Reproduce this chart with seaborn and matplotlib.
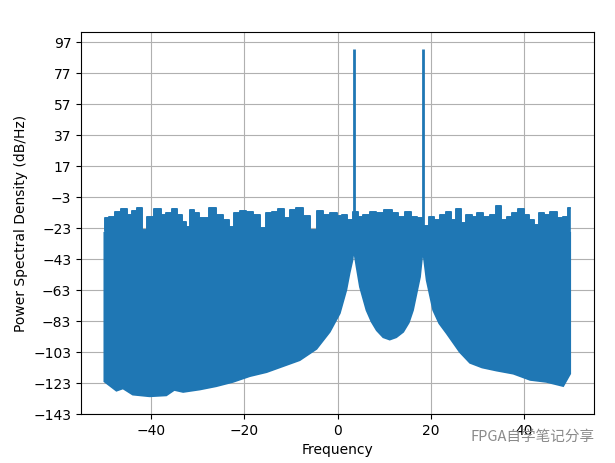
import numpy as np
import matplotlib
matplotlib.use("Agg")
import matplotlib.pyplot as plt
import seaborn as sns

# upper edge of the noise floor
upper_freq = [-49.9, -49.7, -48.2, -47.1, -45.6, -44.6, -43.5, -42.6, -41.4, -40.3, -38.5,
              -37.4, -36.0, -34.9, -33.8, -32.7, -32.1, -31.3, -30.3, -29.2, -28.2,
              -26.7, -25.3, -23.9, -22.8, -21.7, -20.3, -18.8, -17.4, -16.0, -14.5,
              -13.5, -12.1, -11.0, -9.5, -8.1, -6.7, -4.9, -3.8, -2.4, -0.9, 0.5,
              1.6, 2.6, 3.9, 4.8, 6.2, 7.6, 9.1, 10.9, 12.3, 13.7, 15.1, 16.6, 17.7,
              19.1, 20.2, 21.2, 22.7, 23.7, 24.8, 25.9, 27.0, 28.0, 29.5, 30.5, 32.0,
              33.4, 34.7, 35.5, 37.0, 38.0, 39.5, 40.6, 41.6, 42.7, 43.8, 44.8, 46.3,
              47.7, 48.8, 49.9]
upper_db = [-24.0, -16.3, -15.7, -12.5, -10.7, -14.6, -12.0, -9.9, -24.3, -15.7, -10.7,
            -14.6, -13.5, -10.7, -14.6, -18.9, -22.2, -11.4, -13.5, -16.7, -16.3,
            -9.9, -14.6, -17.8, -22.2, -13.5, -12.0, -12.5, -14.6, -23.2, -13.5,
            -12.5, -10.7, -16.7, -11.4, -10.3, -15.0, -24.3, -12.0, -14.6, -13.5, -15.0,
            -14.6, -17.8, -12.5, -15.7, -14.6, -12.5, -13.5, -11.4, -13.5, -15.7, -12.9,
            -15.7, -16.7, -21.5, -15.7, -17.8, -14.6, -12.5, -17.8, -10.7, -20.0, -14.6,
            -15.7, -13.5, -15.7, -14.6, -8.6, -17.8, -15.7, -13.5, -10.7, -14.6, -17.8,
            -21.2, -13.5, -14.6, -12.5, -16.7, -15.7, -9.9]
floor_top = -26.0

# lower edge of the noise floor
lower_freq = [-50.0, -47.4, -46.0, -43.9, -40.3, -36.7, -35.0, -33.1, -29.5, -26.0, -22.4,
              -18.8, -15.2, -11.7, -8.1, -4.5, -1.65, 0.5, 1.9, 2.6, 3.2, 3.5, 4.07,
              4.8, 6.2, 7.3, 8.4, 9.8, 11.2, 12.6, 14.1, 15.3, 16.2, 17.7, 18.3, 19.1,
              20.5, 21.8, 23.4, 26.2, 28.4, 31.0, 34.1, 37.7, 41.3, 44.8, 48.4, 49.9]
lower_db = [-122.0, -128.0, -126.5, -130.5, -131.6, -131.0, -127.5, -128.8, -127.2, -125.1,
            -122.3, -118.6, -116.0, -112.2, -108.3, -101.0, -90.0, -78.0, -63.0, -52.0,
            -44.0, -37.0, -48.0, -61.0, -76.0, -83.5, -89.0, -93.5, -95.0, -93.5, -90.0,
            -84.0, -76.0, -54.5, -37.0, -56.6, -76.0, -84.5, -91.0, -103.0, -110.0,
            -113.0, -115.0, -117.0, -121.0, -122.3, -125.0, -117.0]

# the two tones
peak_freq = [3.5, 18.3]
peak_db = [92.7, 92.7]

fig = plt.figure(figsize=(6.15, 4.63), dpi=100)
ax = fig.add_axes([0.1317, 0.1058, 0.8342, 0.8251])

blue = "#1f77b4"
# body of the noise floor
body_x = np.concatenate([[lower_freq[0]], [lower_freq[-1]], lower_freq[::-1]])
body_y = np.concatenate([[floor_top], [floor_top], lower_db[::-1]])
ax.fill(body_x, body_y, color=blue, lw=1.2, ec=blue, zorder=2)
# blocky top edge
ax.fill_between(upper_freq, upper_db, floor_top - 2, step="mid", color=blue,
                lw=1.2, ec=blue, zorder=2)
sns.lineplot(x=upper_freq, y=upper_db, ax=ax, color=blue, lw=1.2,
             drawstyle="steps-mid", sort=False, estimator=None, zorder=2)
ax.vlines(peak_freq, floor_top, peak_db, color=blue, lw=2, zorder=2)

ax.set_xlim(-55, 55)
ax.set_ylim(-143, 103.6)
ax.set_yticks(np.arange(-143, 104, 20))
ax.set_xticks([-40, -20, 0, 20, 40])
ax.grid(True, color="#b0b0b0", lw=0.8)
ax.set_axisbelow(True)
ax.set_xlabel("Frequency")
ax.set_ylabel("Power Spectral Density (dB/Hz)")

fig.text(0.967, 0.056, "FPGA自学笔记分享", ha="right", va="center", fontsize=10.5,
         color="#8a8a8a", family=["Noto Sans CJK SC", "DejaVu Sans"])

fig.savefig("out.png", dpi=100)
